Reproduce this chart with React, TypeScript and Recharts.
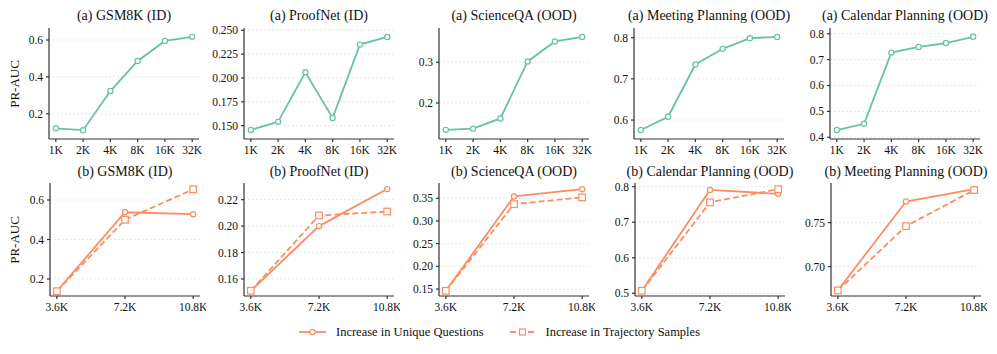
import React from 'react';
import { LineChart, Line, XAxis, YAxis, CartesianGrid } from 'recharts';

// ---------- data ----------
const topCategories = ['1K', '2K', '4K', '8K', '16K', '32K'];
const bottomCategories = ['3.6K', '7.2K', '10.8K'];

const topTitles = [
  '(a) GSM8K (ID)',
  '(a) ProofNet (ID)',
  '(a) ScienceQA (OOD)',
  '(a) Meeting Planning (OOD)',
  '(a) Calendar Planning (OOD)',
];
const bottomTitles = [
  '(b) GSM8K (ID)',
  '(b) ProofNet (ID)',
  '(b) ScienceQA (OOD)',
  '(b) Calendar Planning (OOD)',
  '(b) Meeting Planning (OOD)',
];

const gsm8kTop = [0.121, 0.111, 0.323, 0.486, 0.595, 0.617];
const proofnetTop = [0.1455, 0.154, 0.206, 0.158, 0.235, 0.243];
const scienceqaTop = [0.134, 0.137, 0.162, 0.302, 0.351, 0.362];
const meetingTop = [0.576, 0.608, 0.735, 0.773, 0.799, 0.802];
const calendarTop = [0.428, 0.452, 0.727, 0.749, 0.764, 0.788];

const gsm8kUnique = [0.138, 0.538, 0.528];
const gsm8kTrajectory = [0.138, 0.5, 0.654];
const proofnetUnique = [0.151, 0.2, 0.228];
const proofnetTrajectory = [0.151, 0.208, 0.211];
const scienceqaUnique = [0.146, 0.354, 0.37];
const scienceqaTrajectory = [0.146, 0.337, 0.352];
const calendarUnique = [0.507, 0.791, 0.78];
const calendarTrajectory = [0.507, 0.756, 0.793];
const meetingUnique = [0.673, 0.774, 0.788];
const meetingTrajectory = [0.673, 0.746, 0.787];

const topSeries = [gsm8kTop, proofnetTop, scienceqaTop, meetingTop, calendarTop];
const bottomUnique = [gsm8kUnique, proofnetUnique, scienceqaUnique, calendarUnique, meetingUnique];
const bottomTrajectory = [gsm8kTrajectory, proofnetTrajectory, scienceqaTrajectory, calendarTrajectory, meetingTrajectory];

const topYTicks = [
  [0.2, 0.4, 0.6],
  [0.15, 0.175, 0.2, 0.225, 0.25],
  [0.2, 0.3],
  [0.6, 0.7, 0.8],
  [0.4, 0.5, 0.6, 0.7, 0.8],
];
const topYDecimals = [1, 3, 1, 1, 1];
const topYDomains: [number, number][] = [
  [0.063, 0.665],
  [0.136, 0.2524],
  [0.1116, 0.384],
  [0.554, 0.8236],
  [0.3934, 0.822],
];

const bottomYTicks = [
  [0.2, 0.4, 0.6],
  [0.16, 0.18, 0.2, 0.22],
  [0.15, 0.2, 0.25, 0.3, 0.35],
  [0.5, 0.6, 0.7, 0.8],
  [0.7, 0.75],
];
const bottomYDecimals = [1, 2, 2, 1, 2];
const bottomYDomains: [number, number][] = [
  [0.114, 0.686],
  [0.1471, 0.2326],
  [0.1346, 0.3837],
  [0.4924, 0.8104],
  [0.6667, 0.795],
];

const legendLabels = ['Increase in Unique Questions', 'Increase in Trajectory Samples'];

// ---------- style ----------
const GREEN = '#66c2a5';
const ORANGE = '#fc8d62';
const AXIS = '#333333';
const FONT = "'Liberation Serif', 'Times New Roman', Times, 'DejaVu Serif', serif";
const colX = [49, 244, 439, 634, 830];
const PLOT_W = 150;
const Y_AXIS_W = 40;
const MARGIN_TOP = 8;
const MARGIN_RIGHT = 6;
const X_AXIS_H = 26;
const TICK_FS = 11.5;

const SquareDot = (props: any) => {
  const { cx, cy, stroke, index } = props;
  if (cx == null || cy == null) return <g key={`sq-${index}`} />;
  return (
    <rect
      key={`sq-${index}`}
      x={cx - 3.3}
      y={cy - 3.3}
      width={6.6}
      height={6.6}
      fill="#ffffff"
      stroke={stroke}
      strokeWidth={1.2}
    />
  );
};

const XTick = (props: any) => {
  const { x, y, payload, labels } = props;
  return (
    <text
      x={x}
      y={y + 9}
      textAnchor="middle"
      style={{ fontFamily: FONT, fontSize: TICK_FS, fill: '#111' }}
    >
      {labels[payload.value] ?? ''}
    </text>
  );
};

const YTick = (props: any) => {
  const { x, y, payload, decimals } = props;
  return (
    <text
      x={x}
      y={y + 4}
      textAnchor="end"
      style={{ fontFamily: FONT, fontSize: TICK_FS, fill: '#111' }}
    >
      {Number(payload.value).toFixed(decimals)}
    </text>
  );
};

type PanelProps = {
  axisX: number;
  plotTop: number;
  plotH: number;
  categories: string[];
  series: { values: number[]; color: string; dashed?: boolean; square?: boolean; key: string }[];
  yDomain: [number, number];
  yTicks: number[];
  yDecimals: number;
  title: string;
  titleY: number;
};

const Panel = (p: PanelProps) => {
  const n = p.categories.length;
  const pad = n === 6 ? 0.25 : 0.1;
  const data = p.categories.map((c, i) => {
    const row: any = { idx: i, cat: c };
    p.series.forEach((s) => {
      row[s.key] = s.values[i];
    });
    return row;
  });
  const width = Y_AXIS_W + PLOT_W + MARGIN_RIGHT;
  const height = MARGIN_TOP + p.plotH + X_AXIS_H;
  return (
    <>
      <div
        style={{
          position: 'absolute',
          left: p.axisX - 40,
          width: PLOT_W + 80,
          top: p.titleY - 9,
          height: 18,
          lineHeight: '18px',
          textAlign: 'center',
          fontFamily: FONT,
          fontSize: 14,
          color: '#111',
          whiteSpace: 'nowrap',
        }}
      >
        {p.title}
      </div>
      <div style={{ position: 'absolute', left: p.axisX - Y_AXIS_W, top: p.plotTop - MARGIN_TOP }}>
        <LineChart
          width={width}
          height={height}
          data={data}
          margin={{ top: MARGIN_TOP, right: MARGIN_RIGHT, left: 0, bottom: 0 }}
        >
          <CartesianGrid
            vertical={false}
            horizontal={true}
            stroke="#d9d9d9"
            strokeDasharray="1.5 2.5"
            strokeWidth={0.8}
            horizontalValues={p.yTicks}
          />
          <XAxis
            dataKey="idx"
            type="number"
            domain={[-pad, n - 1 + pad]}
            ticks={p.categories.map((_, i) => i)}
            allowDataOverflow
            height={X_AXIS_H}
            stroke={AXIS}
            strokeWidth={1.2}
            tickSize={3}
            tickMargin={3}
            tick={(props: any) => <XTick {...props} labels={p.categories} />}
            interval={0}
          />
          <YAxis
            type="number"
            domain={p.yDomain}
            ticks={p.yTicks}
            allowDataOverflow
            width={Y_AXIS_W}
            stroke={AXIS}
            strokeWidth={1.2}
            tickSize={3}
            tickMargin={3}
            tick={(props: any) => <YTick {...props} decimals={p.yDecimals} />}
            interval={0}
          />
          {p.series.map((s) => (
            <Line
              key={s.key}
              dataKey={s.key}
              type="linear"
              stroke={s.color}
              strokeWidth={1.8}
              strokeDasharray={s.dashed ? '6 3' : undefined}
              dot={
                s.square
                  ? (props: any) => <SquareDot {...props} />
                  : { r: 2.6, fill: '#ffffff', stroke: s.color, strokeWidth: 1.2 }
              }
              activeDot={false}
              isAnimationActive={false}
            />
          ))}
        </LineChart>
      </div>
    </>
  );
};

const YLabel = ({ cy }: { cy: number }) => (
  <div
    style={{
      position: 'absolute',
      left: 15 - 40,
      top: cy - 9,
      width: 80,
      height: 18,
      lineHeight: '18px',
      textAlign: 'center',
      transform: 'rotate(-90deg)',
      fontFamily: FONT,
      fontSize: 13,
      color: '#111',
    }}
  >
    PR-AUC
  </div>
);

export default function App() {
  return (
    <div
      style={{
        position: 'absolute',
        left: 0,
        top: 0,
        width: 997,
        height: 354,
        background: '#ffffff',
        overflow: 'hidden',
        fontFamily: FONT,
      }}
    >
      {topSeries.map((vals, i) => (
        <Panel
          key={`top-${i}`}
          axisX={colX[i]}
          plotTop={28}
          plotH={111}
          categories={topCategories}
          series={[{ values: vals, color: GREEN, key: 'v' }]}
          yDomain={topYDomains[i]}
          yTicks={topYTicks[i]}
          yDecimals={topYDecimals[i]}
          title={topTitles[i]}
          titleY={15.5}
        />
      ))}
      {bottomUnique.map((vals, i) => (
        <Panel
          key={`bot-${i}`}
          axisX={colX[i] + (i === 0 || i >= 3 ? 1 : 0)}
          plotTop={183}
          plotH={113}
          categories={bottomCategories}
          series={[
            { values: vals, color: ORANGE, key: 'unique' },
            { values: bottomTrajectory[i], color: ORANGE, key: 'traj', dashed: true, square: true },
          ]}
          yDomain={bottomYDomains[i]}
          yTicks={bottomYTicks[i]}
          yDecimals={bottomYDecimals[i]}
          title={bottomTitles[i]}
          titleY={172}
        />
      ))}
      <YLabel cy={83.5} />
      <YLabel cy={239.5} />
      {/* legend */}
      <div style={{ position: 'absolute', left: 298, top: 323, height: 18, display: 'flex', alignItems: 'center', fontFamily: FONT, fontSize: 12.5, color: '#111', whiteSpace: 'nowrap' }}>
        <svg width={29} height={10} style={{ marginRight: 9 }}>
          <line x1={1} y1={5} x2={28} y2={5} stroke={ORANGE} strokeWidth={1.8} />
          <circle cx={14.5} cy={5} r={2.6} fill="#fff" stroke={ORANGE} strokeWidth={1.2} />
        </svg>
        <span style={{ fontFamily: FONT }}>{legendLabels[0]}</span>
        <svg width={27} height={10} style={{ marginLeft: 25, marginRight: 10 }}>
          <line x1={1} y1={5} x2={26} y2={5} stroke={ORANGE} strokeWidth={1.8} strokeDasharray="6 3" />
          <rect x={10.5} y={2} width={6} height={6} fill="#fff" stroke={ORANGE} strokeWidth={1.2} />
        </svg>
        <span style={{ fontFamily: FONT }}>{legendLabels[1]}</span>
      </div>
    </div>
  );
}
